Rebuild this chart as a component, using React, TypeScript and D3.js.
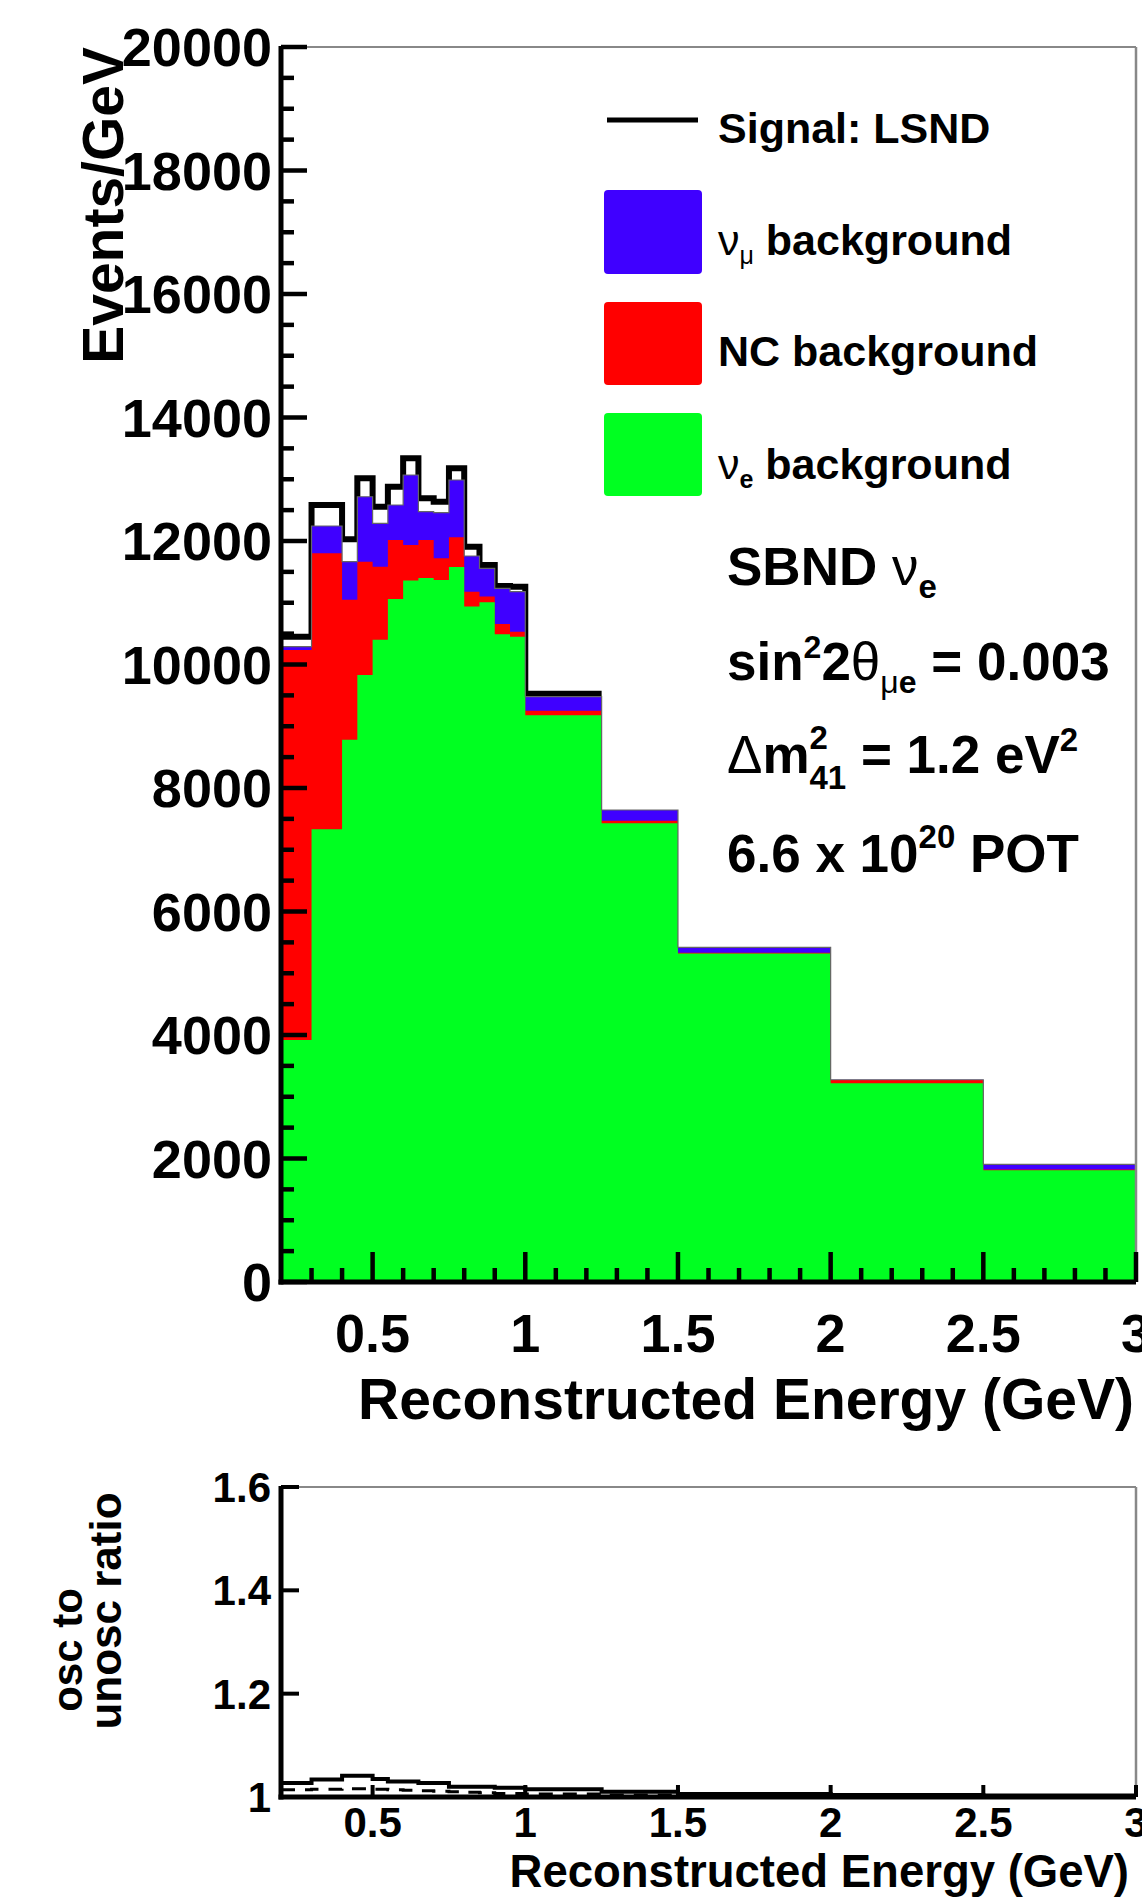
import React from "react";
import * as d3 from "d3";

// ---------- data ----------
const binEdges = [0.2, 0.3, 0.4, 0.45, 0.5, 0.55, 0.6, 0.65, 0.7, 0.75, 0.8, 0.85, 0.9, 0.95, 1.0, 1.25, 1.5, 2.0, 2.5, 3.0];
const nueBackground = [3920, 7330, 8780, 9830, 10400, 11060, 11360, 11400, 11370, 11580, 10940, 11010, 10490, 10450, 9180, 7430, 5320, 3220, 1810];
const ncBackground = [6315, 4470, 2270, 1835, 1184, 956, 575, 616, 350, 480, 240, 90, 166, 80, 72, 40, 10, 50, 10];
const numuBackground = [54, 443, 615, 1052, 702, 567, 1134, 459, 739, 928, 577, 457, 577, 649, 227, 174, 90, 5, 86];
const lsndSignal = [161, 340, 362, 298, 270, 297, 270, 216, 178, 189, 151, 54, 38, 81, 48, 6, 6, 5, 4];
const ratioOsc = [1.027, 1.034, 1.041, 1.041, 1.035, 1.030, 1.030, 1.027, 1.027, 1.020, 1.020, 1.020, 1.018, 1.018, 1.015, 1.010, 1.006, 1.004, 1.003];
const ratioDashed = [1.014, 1.015, 1.016, 1.016, 1.015, 1.014, 1.013, 1.012, 1.011, 1.010, 1.009, 1.008, 1.007, 1.007, 1.006, 1.004, 1.003, 1.002, 1.002];

const yTicksMain = [0, 2000, 4000, 6000, 8000, 10000, 12000, 14000, 16000, 18000, 20000];
const xTicks = [0.5, 1, 1.5, 2, 2.5, 3];
const xTickLabels = ["0.5", "1", "1.5", "2", "2.5", "3"];
const yTicksRatio = [1, 1.2, 1.4, 1.6];
const yTickRatioLabels = ["1", "1.2", "1.4", "1.6"];

const COLORS = { numu: "#3f00ff", nc: "#ff0000", nue: "#00ff21" };
const FONT = "'Liberation Sans', Arial, Helvetica, sans-serif";

type P = { x: number; v: number; i: number };

function stepPoints(vals: number[]): P[] {
  const pts: P[] = [];
  vals.forEach((v, i) => {
    pts.push({ x: binEdges[i], v, i });
    pts.push({ x: binEdges[i + 1], v, i });
  });
  return pts;
}

export default function App() {
  const W = 1142;
  const H = 1901;

  const x = d3.scaleLinear().domain([0.2, 3]).range([281, 1136]);
  const y = d3.scaleLinear().domain([0, 20000]).range([1282, 47]);
  const yr = d3.scaleLinear().domain([1, 1.6]).range([1797, 1487]);

  const green = nueBackground;
  const red = green.map((g, i) => g + ncBackground[i]);
  const blue = red.map((r, i) => r + numuBackground[i]);
  const total = blue.map((b, i) => b + lsndSignal[i]);

  const area = d3
    .area<P>()
    .x((d) => x(d.x))
    .y0(y(0))
    .y1((d) => y(d.v));
  const line = d3
    .line<P>()
    .x((d) => x(d.x))
    .y((d) => y(d.v));
  const signalLine = d3
    .line<P>()
    .defined((d) => lsndSignal[d.i] > 20)
    .x((d) => x(d.x))
    .y((d) => y(d.v));
  const ratioLine = d3
    .line<P>()
    .x((d) => x(d.x))
    .y((d) => yr(d.v));

  const yMinor = d3.range(0, 20001, 500).filter((v) => v % 2000 !== 0);
  const xMinor = d3.range(3, 30).map((k) => k / 10).filter((v) => Math.abs(v * 2 - Math.round(v * 2)) > 1e-6);

  return (
    <div style={{ position: "absolute", left: 0, top: 0, width: W, height: H, background: "#fff" }}>
      <svg width={W} height={H} viewBox={`0 0 ${W} ${H}`} style={{ display: "block" }} fontFamily={FONT}>
        <rect x={0} y={0} width={W} height={H} fill="#fff" />

        {/* ===== main plot ===== */}
        <path d={signalLine(stepPoints(total)) || ""} fill="none" stroke="#000" strokeWidth={6} />
        <path d={area(stepPoints(blue)) || ""} fill={COLORS.numu} />
        <path d={area(stepPoints(red)) || ""} fill={COLORS.nc} />
        <path d={area(stepPoints(green)) || ""} fill={COLORS.nue} />
        <path d={line(stepPoints(blue)) || ""} fill="none" stroke="#666" strokeWidth={1.2} />

        {/* frame */}
        <line x1={x(0.2)} x2={x(3)} y1={y(20000)} y2={y(20000)} stroke="#888" strokeWidth={2} />
        <line x1={x(3)} x2={x(3)} y1={y(20000)} y2={y(0)} stroke="#888" strokeWidth={2.5} />

        {/* y ticks */}
        {yTicksMain.map((t) => (
          <line key={"ym" + t} x1={x(0.2)} x2={x(0.2) + 26} y1={y(t)} y2={y(t)} stroke="#000" strokeWidth={4.5} />
        ))}
        {yMinor.map((t) => (
          <line key={"yn" + t} x1={x(0.2)} x2={x(0.2) + 13} y1={y(t)} y2={y(t)} stroke="#000" strokeWidth={4.5} />
        ))}
        {/* x ticks */}
        {xTicks.map((t) => (
          <line key={"xm" + t} x1={x(t)} x2={x(t)} y1={y(0)} y2={y(0) - 30} stroke="#000" strokeWidth={4.5} />
        ))}
        {xMinor.map((t) => (
          <line key={"xn" + t} x1={x(t)} x2={x(t)} y1={y(0)} y2={y(0) - 14} stroke="#000" strokeWidth={4.5} />
        ))}
        {/* axes */}
        <line x1={x(0.2)} x2={x(0.2)} y1={y(20000) - 1} y2={y(0) + 2.5} stroke="#000" strokeWidth={5} />
        <line x1={x(0.2) - 2.5} x2={x(3)} y1={y(0)} y2={y(0)} stroke="#000" strokeWidth={5} />

        {/* y labels */}
        {yTicksMain.map((t) => (
          <text key={"yl" + t} x={272} y={y(t) + 19} textAnchor="end" fontSize={54} fontWeight="bold">
            {String(t)}
          </text>
        ))}
        {/* x labels */}
        {xTicks.map((t, i) => (
          <text key={"xl" + t} x={x(t)} y={1352} textAnchor="middle" fontSize={54} fontWeight="bold">
            {xTickLabels[i]}
          </text>
        ))}
        <text x={1134} y={1419} textAnchor="end" fontSize={57} fontWeight="bold">
          Reconstructed Energy (GeV)
        </text>
        <text transform={`translate(123,47) rotate(-90)`} textAnchor="end" fontSize={57} fontWeight="bold">
          Events/GeV
        </text>

        {/* legend */}
        <line x1={607} x2={698} y1={120} y2={120} stroke="#000" strokeWidth={5} />
        <text x={718} y={143} fontSize={43} fontWeight="bold">Signal: LSND</text>
        <rect x={604} y={190} width={98} height={84} rx={4} fill={COLORS.numu} />
        <text x={718} y={255} fontSize={43} fontWeight="bold">
          <tspan fontWeight="normal">ν</tspan>
          <tspan fontSize={25} fontWeight="normal" dy={9}>μ</tspan>
          <tspan dy={-9}> background</tspan>
        </text>
        <rect x={604} y={302} width={98} height={83} rx={4} fill={COLORS.nc} />
        <text x={718} y={366} fontSize={43} fontWeight="bold">NC background</text>
        <rect x={604} y={413} width={98} height={83} rx={4} fill={COLORS.nue} />
        <text x={718} y={479} fontSize={43} fontWeight="bold">
          <tspan fontWeight="normal">ν</tspan>
          <tspan fontSize={25} dy={9}>e</tspan>
          <tspan dy={-9}> background</tspan>
        </text>

        {/* text box */}
        <text x={727} y={585} fontSize={53} fontWeight="bold">
          SBND <tspan fontWeight="normal">ν</tspan>
          <tspan fontSize={33} dy={13}>e</tspan>
        </text>
        <text x={727} y={680} fontSize={53} fontWeight="bold">
          sin<tspan fontSize={32} dy={-22}>2</tspan>
          <tspan dy={22}>2</tspan>
          <tspan fontWeight="normal">θ</tspan>
          <tspan fontSize={32} fontWeight="normal" dy={13}>μ</tspan>
          <tspan fontSize={32}>e</tspan>
          <tspan dy={-13}> = 0.003</tspan>
        </text>
        <text x={727} y={773} fontSize={53} fontWeight="bold">
          <tspan fontWeight="normal">Δ</tspan>m
          <tspan fontSize={33} dy={-24}>2</tspan>
          <tspan fontSize={33} dx={-18.4} dy={40}>41</tspan>
          <tspan dy={-16}> = 1.2 eV</tspan>
          <tspan fontSize={33} dy={-22}>2</tspan>
        </text>
        <text x={727} y={872} fontSize={53} fontWeight="bold">
          6.6 x 10<tspan fontSize={33} dy={-24}>20</tspan>
          <tspan dy={24}> POT</tspan>
        </text>

        {/* ===== ratio plot ===== */}
        <path d={ratioLine(stepPoints(ratioDashed)) || ""} fill="none" stroke="#000" strokeWidth={3} strokeDasharray="14,10" />
        <path d={ratioLine(stepPoints(ratioOsc)) || ""} fill="none" stroke="#000" strokeWidth={4} />

        <line x1={x(0.2)} x2={x(3)} y1={yr(1.6)} y2={yr(1.6)} stroke="#888" strokeWidth={2} />
        <line x1={x(3)} x2={x(3)} y1={yr(1.6)} y2={yr(1)} stroke="#888" strokeWidth={2.5} />
        {yTicksRatio.map((t) => (
          <line key={"ry" + t} x1={x(0.2)} x2={x(0.2) + 18} y1={yr(t)} y2={yr(t)} stroke="#000" strokeWidth={4} />
        ))}
        {xTicks.map((t) => (
          <line key={"rx" + t} x1={x(t)} x2={x(t)} y1={yr(1)} y2={yr(1) - 12} stroke="#000" strokeWidth={4} />
        ))}
        <line x1={x(0.2)} x2={x(0.2)} y1={yr(1.6) - 1} y2={yr(1) + 2.5} stroke="#000" strokeWidth={5} />
        <line x1={x(0.2) - 2.5} x2={x(3)} y1={yr(1)} y2={yr(1)} stroke="#000" strokeWidth={5} />

        {yTicksRatio.map((t, i) => (
          <text key={"ryl" + t} x={271} y={yr(t) + 15} textAnchor="end" fontSize={42} fontWeight="bold">
            {yTickRatioLabels[i]}
          </text>
        ))}
        {xTicks.map((t, i) => (
          <text key={"rxl" + t} x={x(t)} y={1837} textAnchor="middle" fontSize={42} fontWeight="bold">
            {xTickLabels[i]}
          </text>
        ))}
        <text x={1129} y={1887} textAnchor="end" fontSize={45.5} fontWeight="bold">
          Reconstructed Energy (GeV)
        </text>
        <text transform={`translate(82,1650) rotate(-90)`} textAnchor="middle" fontSize={42} fontWeight="bold">
          osc to
        </text>
        <text transform={`translate(121,1611) rotate(-90)`} textAnchor="middle" fontSize={44} fontWeight="bold">
          unosc ratio
        </text>
      </svg>
    </div>
  );
}
